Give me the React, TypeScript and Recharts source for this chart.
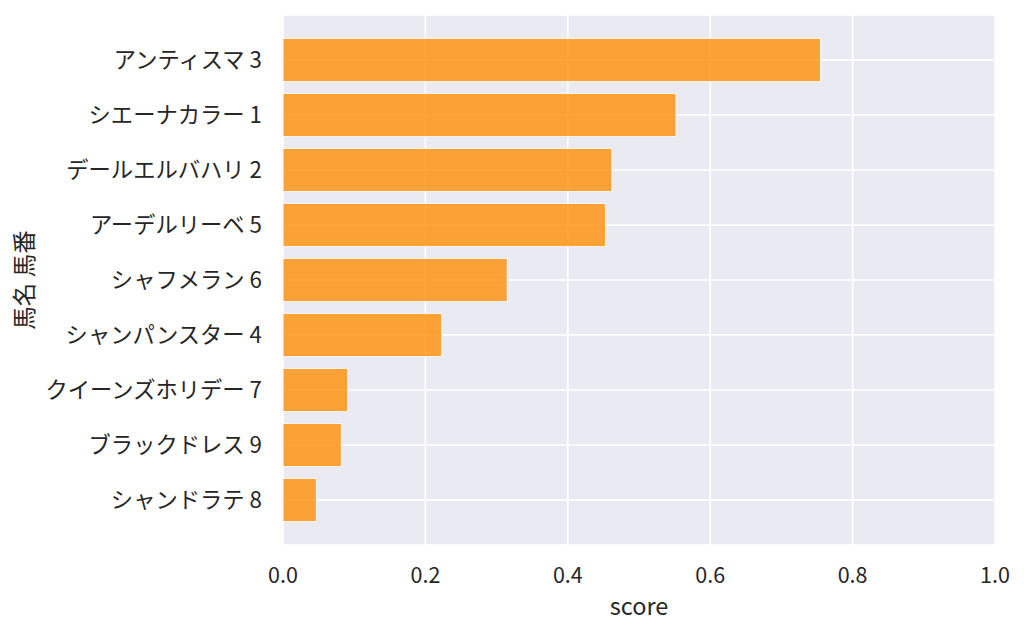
import React from 'react';
import { BarChart, Bar, XAxis, YAxis, CartesianGrid } from 'recharts';

const horseNames = [
  'アンティスマ',
  'シエーナカラー',
  'デールエルバハリ',
  'アーデルリーベ',
  'シャフメラン',
  'シャンパンスター',
  'クイーンズホリデー',
  'ブラックドレス',
  'シャンドラテ',
];
const horseNumbers = [3, 1, 2, 5, 6, 4, 7, 9, 8];
const scores = [0.755, 0.552, 0.462, 0.453, 0.315, 0.223, 0.091, 0.082, 0.047];
const xTicks = [0, 0.2, 0.4, 0.6, 0.8, 1.0];

const data = horseNames.map((name, i) => ({
  label: `${name} ${horseNumbers[i]}`,
  score: scores[i],
}));

const textColor = '#262626';
const font = '"Noto Sans CJK JP", "Noto Sans", sans-serif';

export default function App() {
  return (
    <div style={{ position: 'absolute', left: 0, top: 0, fontFamily: font }}>
      <BarChart
        width={1024}
        height={635}
        data={data}
        layout="vertical"
        margin={{ top: 15, right: 29, bottom: 0, left: 0 }}
      >
        <CartesianGrid fill="#eaeaf2" stroke="#ffffff" strokeWidth={1.6} />
        <XAxis
          type="number"
          dataKey="score"
          domain={[0, 1]}
          ticks={xTicks}
          tickFormatter={(v: number) => v.toFixed(1)}
          axisLine={false}
          tickLine={false}
          tickSize={0}
          tickMargin={23}
          height={90}
          tick={{ fill: textColor, fontSize: 21.5, fontFamily: font }}
          label={{
            value: 'score',
            position: 'insideBottom',
            offset: 20,
            fill: textColor,
            fontSize: 23.5,
            fontFamily: font,
          }}
        />
        <YAxis
          type="category"
          dataKey="label"
          width={283}
          axisLine={false}
          tickLine={false}
          tickSize={0}
          tickMargin={21}
          padding={{ top: 17.5, bottom: 17.5 }}
          interval={0}
          tick={{ fill: textColor, fontSize: 22.3, fontFamily: font }}
          label={{
            value: '馬名 馬番',
            angle: -90,
            position: 'insideLeft',
            offset: 25,
            fill: textColor,
            fontSize: 23.5,
            fontFamily: font,
            style: { textAnchor: 'middle' },
          }}
        />
        <Bar
          dataKey="score"
          fill="#ff8c00"
          fillOpacity={0.78}
          stroke="#ffffff"
          strokeOpacity={0.8}
          strokeWidth={1.2}
          barSize={43}
          isAnimationActive={false}
        />
      </BarChart>
    </div>
  );
}
